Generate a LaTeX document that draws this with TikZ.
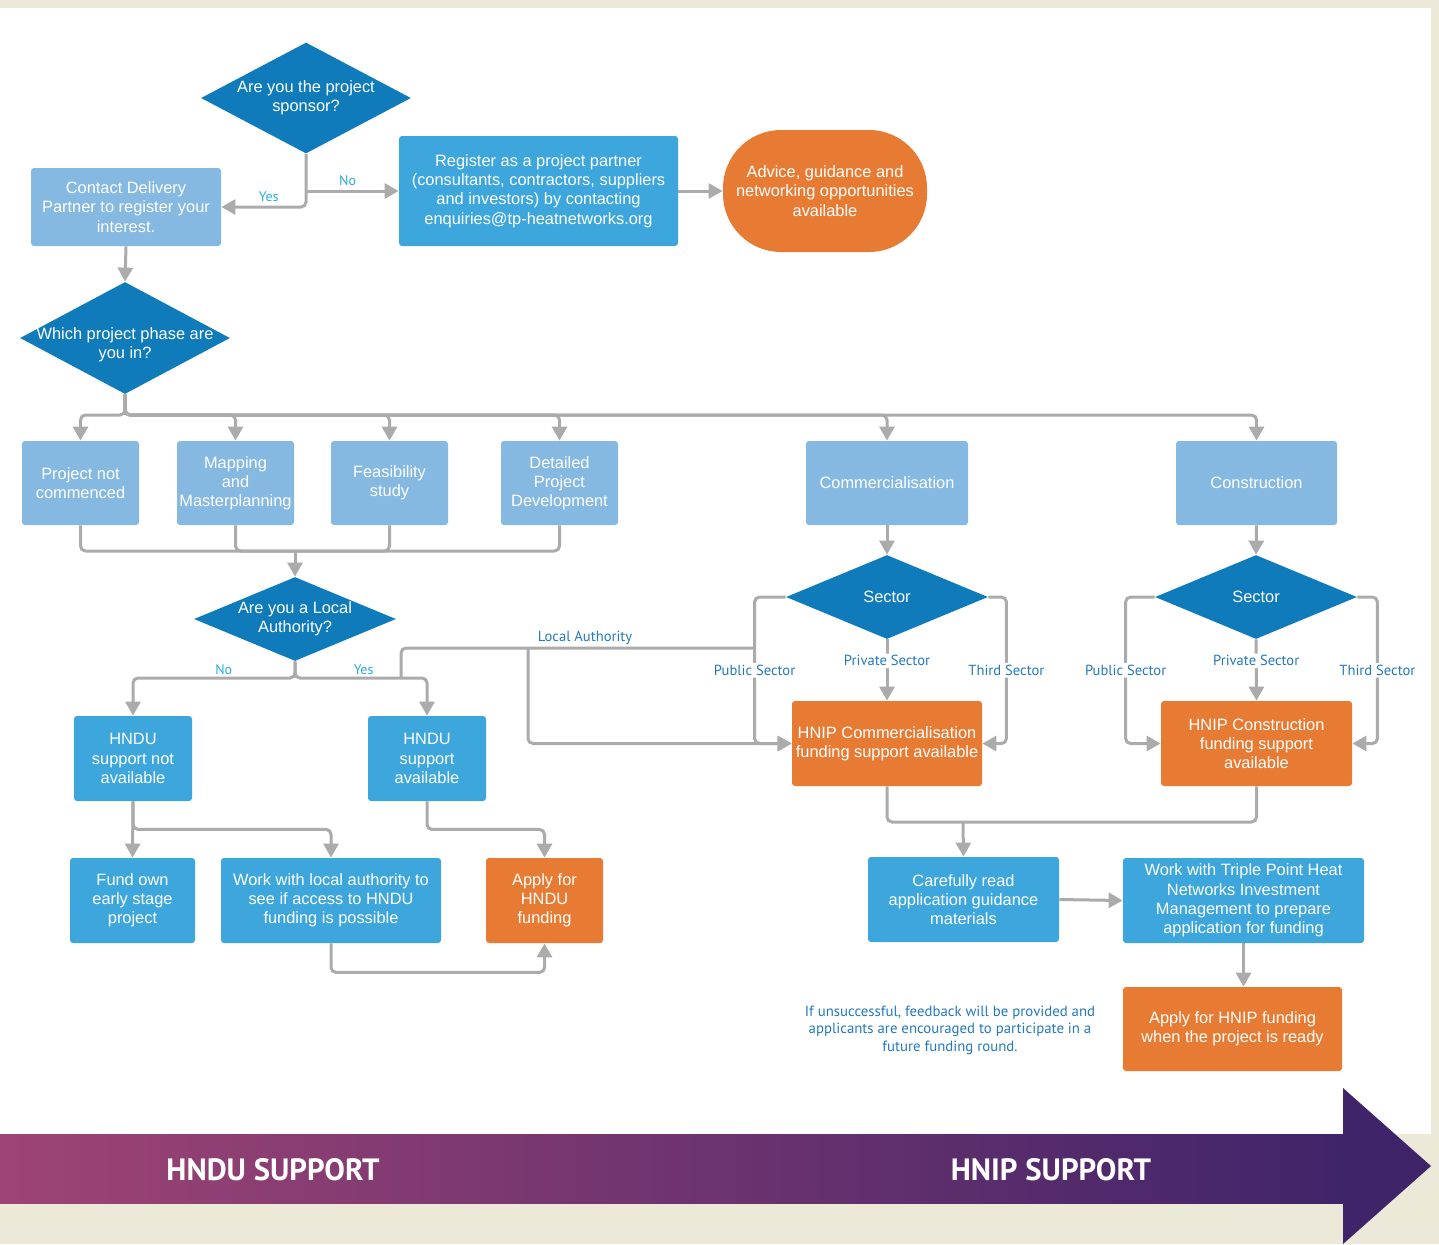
\documentclass[tikz,border=0pt]{standalone}
\usepackage{fontspec}
\usepackage{tikz}
\usetikzlibrary{shapes.geometric,arrows.meta}
\setmainfont{Liberation Sans}
\newfontfamily\labfont{PT Sans}

\definecolor{cream}{HTML}{EDE9D8}
\definecolor{darkblue}{HTML}{0F7BBB}
\definecolor{paleblue}{HTML}{85B9E2}
\definecolor{midblue}{HTML}{3DA6DD}
\definecolor{hnorange}{HTML}{E87B33}
\definecolor{linegrey}{HTML}{ABABAB}
\definecolor{cyanlab}{HTML}{29ABE2}
\definecolor{bluelab}{HTML}{2479BD}
\definecolor{bandpink}{HTML}{9E4475}
\definecolor{bandpurple}{HTML}{40246A}

\tikzset{
	boxtext/.style = {text=white, align=center, font=\fontsize{8.2}{9.6}\selectfont},
	phasebox/.style = {boxtext, rectangle, rounded corners=1.5pt, fill=paleblue, inner sep=1pt},
	stepbox/.style = {boxtext, rectangle, rounded corners=1.5pt, fill=midblue, inner sep=1pt},
	fundbox/.style = {boxtext, rectangle, rounded corners=1.5pt, fill=hnorange, inner sep=1pt},
	question/.style = {boxtext, diamond, fill=darkblue, inner sep=0pt},
	flow/.style = {draw=linegrey, line width=1.5pt, rounded corners=2.5pt},
	arr/.style = {flow, -{Triangle[length=7pt,width=7.5pt]}},
	yesno/.style = {font=\labfont\fontsize{7}{8}\selectfont, text=cyanlab, inner sep=1pt},
	sectorlab/.style = {font=\labfont\fontsize{7.3}{8}\selectfont, text=bluelab, fill=white, inner sep=1pt}
}

\begin{document}
\begin{tikzpicture}[x=0.5pt, y=-0.5pt]
	\useasboundingbox (0,0) rectangle (1439,1244);
	\fill[cream] (0,0) rectangle (1439,1244);
	\fill[white] (0,8) rectangle (1431,1134);

	% support band
	\shade[left color=bandpink, right color=bandpurple] (0,1134) rectangle (1343,1203);
	\fill[bandpurple] (1343,1088) -- (1431,1166) -- (1343,1244) -- cycle;
	\node[text=white, font=\labfont\bfseries\fontsize{15.4}{17}\selectfont] (hndusupport) at (273,1170) {HNDU SUPPORT};
	\node[text=white, font=\labfont\bfseries\fontsize{15.4}{17}\selectfont] (hnipsupport) at (1051,1170) {HNIP SUPPORT};

	% top
	\node[question, minimum width=105pt, minimum height=55.5pt, aspect=1.9] (sponsor) at (306,98) {Are you the project\\sponsor?};
	\node[phasebox, minimum width=95pt, minimum height=39pt] (contact) at (126,207) {Contact Delivery\\Partner to register your\\interest.};
	\node[stepbox, minimum width=139.5pt, minimum height=55pt] (register) at (538.5,191) {Register as a project partner\\(consultants, contractors, suppliers\\and investors) by contacting\\enquiries@tp-heatnetworks.org};
	\node[fundbox, rounded corners=29pt, minimum width=102pt, minimum height=61pt] (advice) at (825,191) {Advice, guidance and\\networking opportunities\\available};
	\node[question, minimum width=105pt, minimum height=56pt,
		label={[boxtext, yshift=-3.2pt]center:{Which project phase are\\you in?}}] (phase) at (125,338) {};

	% phases
	\node[phasebox, minimum width=58.5pt, minimum height=42pt] (notstarted) at (80.5,483) {Project not\\commenced};
	\node[phasebox, minimum width=58.5pt, minimum height=42pt] (mapping) at (235.5,483) {Mapping\\and\\Masterplanning};
	\node[phasebox, minimum width=58.5pt, minimum height=42pt] (feasibility) at (389.5,483) {Feasibility\\study};
	\node[phasebox, minimum width=58.5pt, minimum height=42pt] (detailed) at (559.5,483) {Detailed\\Project\\Development};
	\node[phasebox, minimum width=81pt, minimum height=42pt] (commercial) at (887,483) {Commercialisation};
	\node[phasebox, minimum width=80.5pt, minimum height=42pt] (construction) at (1256.5,483) {Construction};

	% HNDU side
	\node[question, minimum width=101pt, minimum height=42pt, aspect=2.4] (localauth) at (295,619) {Are you a Local\\Authority?};
	\node[stepbox, minimum width=59pt, minimum height=42.5pt] (hnduno) at (133,758.5) {HNDU\\support not\\available};
	\node[stepbox, minimum width=59pt, minimum height=42.5pt] (hnduyes) at (427,758.5) {HNDU\\support\\available};
	\node[stepbox, minimum width=62.5pt, minimum height=42.5pt] (fundown) at (132.5,900.5) {Fund own\\early stage\\project};
	\node[stepbox, minimum width=110pt, minimum height=42.5pt] (worklocal) at (331,900.5) {Work with local authority to\\see if access to HNDU\\funding is possible};
	\node[fundbox, minimum width=58.5pt, minimum height=42.5pt] (applyhndu) at (544.5,900.5) {Apply for\\HNDU\\funding};

	% HNIP side
	\node[question, minimum width=101pt, minimum height=42pt, aspect=2.4] (sectorcom) at (887,597) {Sector};
	\node[question, minimum width=101pt, minimum height=42pt, aspect=2.4] (sectorcon) at (1256,597) {Sector};
	\node[fundbox, minimum width=95pt, minimum height=42.5pt] (hnipcom) at (887,743.5) {HNIP Commercialisation\\funding support available};
	\node[fundbox, minimum width=95.5pt, minimum height=42.5pt] (hnipcon) at (1256.5,743.5) {HNIP Construction\\funding support\\available};
	\node[stepbox, minimum width=95.5pt, minimum height=42.5pt] (readguide) at (963.5,899.5) {Carefully read\\application guidance\\materials};
	\node[stepbox, minimum width=120.5pt, minimum height=42.5pt] (tpwork) at (1243.5,900.5) {Work with Triple Point Heat\\Networks Investment\\Management to prepare\\application for funding};
	\node[fundbox, minimum width=109.5pt, minimum height=42pt] (applyhnip) at (1232.5,1029) {Apply for HNIP funding\\when the project is ready};
	\node[align=center, text=bluelab, font=\labfont\fontsize{7.4}{8.7}\selectfont] (feedback) at (950,1030) {If unsuccessful, feedback will be provided and\\applicants are encouraged to participate in a\\future funding round.};

	% junctions
	\coordinate (phasebus) at (125,415);
	\coordinate (phasemerge) at (295,551);
	\coordinate (lasplit) at (295,678);
	\coordinate (layes) at (401,678);
	\coordinate (lapublic) at (755,648);
	\coordinate (ladrop) at (528,648);
	\coordinate (hnipmerge) at (963,822);

	% links
	\draw[arr] (sponsor.south) |- (contact.east) node[yesno, pos=0.72, above=1pt] {Yes};
	\draw[arr] (sponsor.south |- register.west) -- (register.west) node[yesno, pos=0.45, above=1pt] {No};
	\draw[arr] (register.east) -- (advice.west);
	\draw[arr] (contact.south) -- (phase.north);

	\foreach \p in {notstarted, mapping, feasibility, detailed, commercial, construction}
		\draw[arr] (phase.south) -- (phasebus) -| (\p.north);
	\foreach \p in {notstarted, mapping, feasibility, detailed}
		\draw[flow] (\p.south) |- (phasemerge);
	\draw[arr] (phasemerge) -- (localauth.north);

	\draw[arr] (localauth.south) -- (lasplit) -| (hnduno.north) node[yesno, pos=0.22, above=0pt] {No};
	\draw[arr] (localauth.south) -- (lasplit) -| (hnduyes.north) node[yesno, pos=0.26, above=0pt] {Yes};
	\draw[flow] (layes) |- (lapublic) node[sectorlab, fill=none, pos=0.76, above=0pt] {Local Authority};
	\draw[arr] (ladrop) |- (hnipcom.west);

	\draw[arr] (hnduno.south) -- (fundown.north);
	\draw[arr] (hnduno.south) -- ++(0,28) -| (worklocal.north);
	\draw[arr] (hnduyes.south) -- ++(0,28) -| (applyhndu.north);
	\draw[arr] (worklocal.south) -- ++(0,29) -| (applyhndu.south);

	\draw[arr] (commercial.south) -- (sectorcom.north);
	\draw[arr] (construction.south) -- (sectorcon.north);
	\draw[arr] (sectorcom.west) -- ++(-31,0) |- (hnipcom.west) node[sectorlab, pos=0.25] {Public Sector};
	\draw[arr] (sectorcom.south) -- (hnipcom.north) node[sectorlab, pos=0.35] {Private Sector};
	\draw[arr] (sectorcom.east) -- ++(18,0) |- (hnipcom.east) node[sectorlab, pos=0.25] {Third Sector};
	\draw[arr] (sectorcon.west) -- ++(-29,0) |- (hnipcon.west) node[sectorlab, pos=0.25] {Public Sector};
	\draw[arr] (sectorcon.south) -- (hnipcon.north) node[sectorlab, pos=0.35] {Private Sector};
	\draw[arr] (sectorcon.east) -- ++(20,0) |- (hnipcon.east) node[sectorlab, pos=0.25] {Third Sector};

	\draw[flow] (hnipcom.south) |- (hnipmerge);
	\draw[flow] (hnipcon.south) |- (hnipmerge);
	\draw[arr] (hnipmerge) -- (readguide.north);
	\draw[arr] (readguide.east) -- (tpwork.west);
	\draw[arr] (tpwork.south) -- (tpwork.south |- applyhnip.north);
\end{tikzpicture}
\end{document}
